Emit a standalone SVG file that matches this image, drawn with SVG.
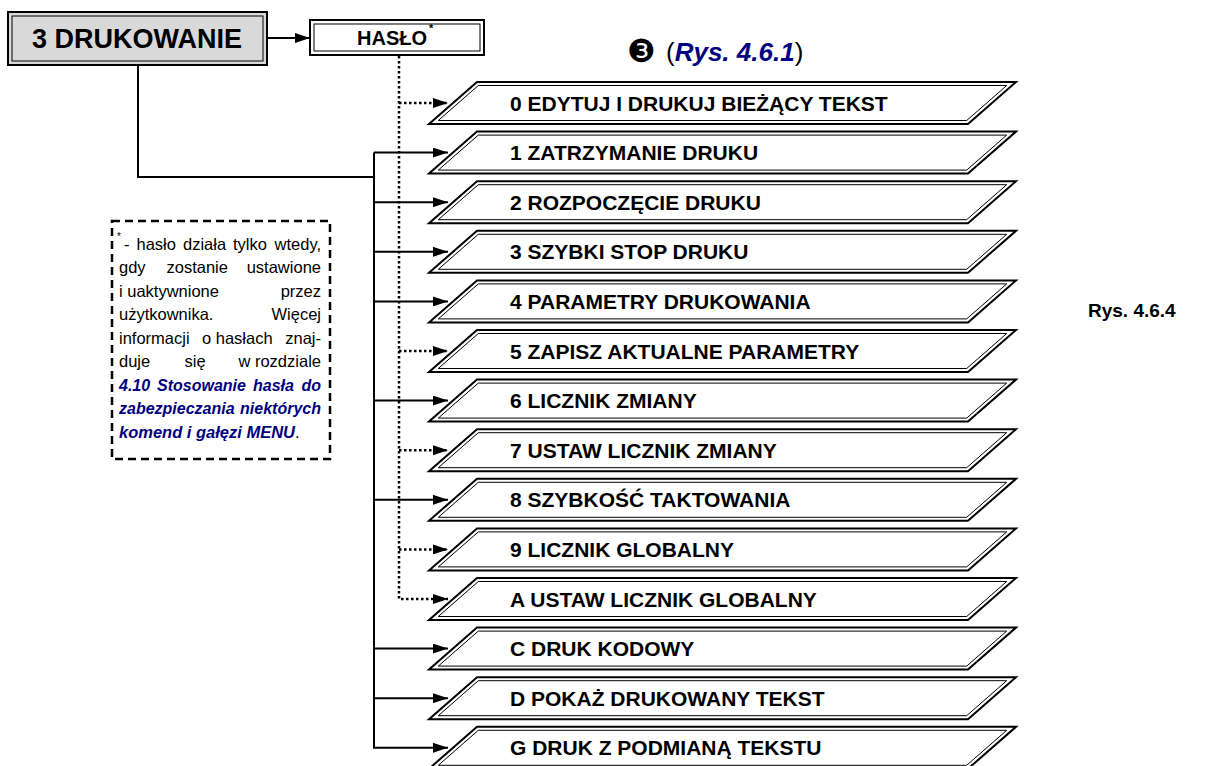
<svg xmlns="http://www.w3.org/2000/svg" width="1206" height="766" viewBox="0 0 1206 766">
<defs>
<style>
text{font-family:"Liberation Sans",Arial,sans-serif;fill:#000}
.b{font-weight:bold}
.bi{font-weight:bold;font-style:italic;fill:#000080}
.ol{fill:#fff;stroke:#000;stroke-width:2}
.il{fill:none;stroke:#000;stroke-width:1}
.rt{font-size:21px;font-weight:bold}
.c{fill:none;stroke:#000;stroke-width:2}
.d{fill:none;stroke:#000;stroke-width:2.5;stroke-dasharray:2.5 2.5}
.nt{font-size:16.5px}
.e{text-anchor:end}
</style>
<marker id="ah" viewBox="0 0 15 10" refX="15" refY="5" markerWidth="15" markerHeight="10" markerUnits="userSpaceOnUse" orient="auto"><path d="M0,0 L15,5 L0,10 z" fill="#000"/></marker>
<g id="para">
<polygon class="ol" points="477,-21 1016,-21 968,21 429,21"/>
<polygon class="il" points="478.3,-17.5 1006.7,-17.5 966.7,17.5 438.3,17.5"/>
</g>
</defs>
<rect width="1206" height="766" fill="#fff"/>

<g id="connectors">
<path class="c" d="M268,38 H310" marker-end="url(#ah)"/>
<path class="c" d="M138,65 V177 H374"/>
<path class="c" d="M374,152.6 H448" marker-end="url(#ah)"/>
<path class="c" d="M374,202.2 H448" marker-end="url(#ah)"/>
<path class="c" d="M374,251.8 H448" marker-end="url(#ah)"/>
<path class="c" d="M374,301.4 H448" marker-end="url(#ah)"/>
<path class="c" d="M374,400.6 H448" marker-end="url(#ah)"/>
<path class="c" d="M374,499.8 H448" marker-end="url(#ah)"/>
<path class="c" d="M374,648.6 H448" marker-end="url(#ah)"/>
<path class="c" d="M374,698.2 H448" marker-end="url(#ah)"/>
<path class="c" d="M374,152.6 V747.8 H448" marker-end="url(#ah)"/>
<path class="d" d="M399,56 V599 H448" marker-end="url(#ah)"/>
<path class="d" d="M399,103 H448" marker-end="url(#ah)"/>
<path class="d" d="M399,351 H448" marker-end="url(#ah)"/>
<path class="d" d="M399,450.2 H448" marker-end="url(#ah)"/>
<path class="d" d="M399,549.4 H448" marker-end="url(#ah)"/>
</g>

<g id="node-drukowanie">
<rect x="8" y="12" width="259" height="53" fill="#d9d9d9" stroke="#000" stroke-width="2"/>
<rect x="12" y="16" width="251" height="45" fill="none" stroke="#000" stroke-width="1"/>
<text x="137" y="48" class="b" font-size="27" text-anchor="middle">3 DRUKOWANIE</text>
</g>

<g id="node-haslo">
<rect x="310" y="20" width="174" height="35" fill="#fff" stroke="#000" stroke-width="2"/>
<rect x="314" y="24" width="166" height="27" fill="none" stroke="#000" stroke-width="1"/>
<text x="392" y="45" class="b" font-size="20" text-anchor="middle">HASŁO</text>
<text x="429" y="32" class="b" font-size="11">*</text>
</g>

<g id="title">
<text x="641" y="62" font-size="32" text-anchor="middle" style="font-family:'DejaVu Sans',sans-serif">❸</text>
<text x="666" y="61" font-size="26">(<tspan class="bi">Rys. 4.6.1</tspan>)</text>
</g>

<g id="row-0" transform="translate(0,103)"><use href="#para"/><text x="510" y="7.5" class="rt">0 EDYTUJ I DRUKUJ BIEŻĄCY TEKST</text></g>
<g id="row-1" transform="translate(0,152.6)"><use href="#para"/><text x="510" y="7.5" class="rt">1 ZATRZYMANIE DRUKU</text></g>
<g id="row-2" transform="translate(0,202.2)"><use href="#para"/><text x="510" y="7.5" class="rt">2 ROZPOCZĘCIE DRUKU</text></g>
<g id="row-3" transform="translate(0,251.8)"><use href="#para"/><text x="510" y="7.5" class="rt">3 SZYBKI STOP DRUKU</text></g>
<g id="row-4" transform="translate(0,301.4)"><use href="#para"/><text x="510" y="7.5" class="rt">4 PARAMETRY DRUKOWANIA</text></g>
<g id="row-5" transform="translate(0,351)"><use href="#para"/><text x="510" y="7.5" class="rt">5 ZAPISZ AKTUALNE PARAMETRY</text></g>
<g id="row-6" transform="translate(0,400.6)"><use href="#para"/><text x="510" y="7.5" class="rt">6 LICZNIK ZMIANY</text></g>
<g id="row-7" transform="translate(0,450.2)"><use href="#para"/><text x="510" y="7.5" class="rt">7 USTAW LICZNIK ZMIANY</text></g>
<g id="row-8" transform="translate(0,499.8)"><use href="#para"/><text x="510" y="7.5" class="rt">8 SZYBKOŚĆ TAKTOWANIA</text></g>
<g id="row-9" transform="translate(0,549.4)"><use href="#para"/><text x="510" y="7.5" class="rt">9 LICZNIK GLOBALNY</text></g>
<g id="row-A" transform="translate(0,599)"><use href="#para"/><text x="510" y="7.5" class="rt">A USTAW LICZNIK GLOBALNY</text></g>
<g id="row-C" transform="translate(0,648.6)"><use href="#para"/><text x="510" y="7.5" class="rt">C DRUK KODOWY</text></g>
<g id="row-D" transform="translate(0,698.2)"><use href="#para"/><text x="510" y="7.5" class="rt">D POKAŻ DRUKOWANY TEKST</text></g>
<g id="row-G" transform="translate(0,747.8)"><use href="#para"/><text x="510" y="7.5" class="rt">G DRUK Z PODMIANĄ TEKSTU</text></g>

<g id="note">
<rect x="112" y="221" width="218" height="238" fill="none" stroke="#000" stroke-width="2.5" stroke-dasharray="8 5"/>
<text x="117" y="240" font-size="10">*</text>
<text class="nt" y="249.5"><tspan x="124">-</tspan><tspan x="136.5">hasło</tspan><tspan x="183">działa</tspan><tspan x="233">tylko</tspan><tspan x="321" class="e">wtedy,</tspan></text>
<text class="nt" y="273"><tspan x="119">gdy</tspan><tspan x="166.5">zostanie</tspan><tspan x="321" class="e">ustawione</tspan></text>
<text class="nt" y="296.5"><tspan x="119">i uaktywnione</tspan><tspan x="321" class="e">przez</tspan></text>
<text class="nt" y="320"><tspan x="119">użytkownika.</tspan><tspan x="321" class="e">Więcej</tspan></text>
<text class="nt" y="343.5"><tspan x="119">informacji</tspan><tspan x="202">o hasłach</tspan><tspan x="321" class="e">znaj-</tspan></text>
<text class="nt" y="367"><tspan x="119">duje</tspan><tspan x="184.5">się</tspan><tspan x="321" class="e">w rozdziale</tspan></text>
<text class="nt bi" y="390.5" style="font-size:16px"><tspan x="119">4.10</tspan><tspan x="157">Stosowanie</tspan><tspan x="253">hasła</tspan><tspan x="321" class="e">do</tspan></text>
<text class="nt bi" y="414" style="font-size:16px"><tspan x="119">zabezpieczania</tspan><tspan x="321" class="e">niektórych</tspan></text>
<text class="nt" x="119" y="437.5"><tspan class="bi">komend i gałęzi MENU</tspan>.</text>
</g>

<g id="figure-label">
<text x="1088" y="317" class="b" font-size="19">Rys. 4.6.4</text>
</g>
</svg>
